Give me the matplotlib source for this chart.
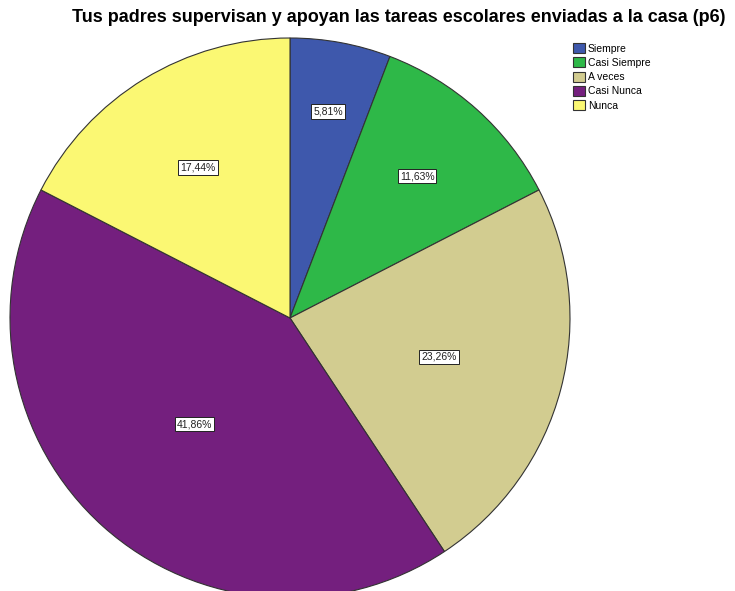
import numpy as np
import matplotlib.pyplot as plt

# Data (percent of answers)
categories = ['Siempre', 'Casi Siempre', 'A veces', 'Casi Nunca', 'Nunca']
percents = [5.81, 11.63, 23.26, 41.86, 17.44]
colors = ['#3e58ac', '#2eb848', '#d2cc90', '#741f7e', '#fbf873']
label_r = [0.75, 0.68, 0.55, 0.51, 0.63]  # radial position of each label

plt.rcParams['font.family'] = ['Liberation Sans', 'DejaVu Sans']

fig = plt.figure(figsize=(7.35, 5.91), dpi=100)
ax = fig.add_axes([10/735, -7/591, 560/735, 560/591])

wedges, _ = ax.pie(percents, colors=colors, startangle=90, counterclock=False,
                   radius=1.0, wedgeprops=dict(edgecolor='#333333', linewidth=0.8))
ax.set_xlim(-1, 1)
ax.set_ylim(-1, 1)
ax.set_aspect('equal')

# Percent labels in little white boxes
for w, p, r in zip(wedges, percents, label_r):
    ang = np.deg2rad((w.theta1 + w.theta2) / 2)
    ax.text(r * np.cos(ang), r * np.sin(ang), ('%.2f%%' % p).replace('.', ','),
            ha='center', va='center', fontsize=7.5, color='#222222',
            bbox=dict(boxstyle='square,pad=0.2', fc='white', ec='#222222', lw=0.7))

fig.text(399/735, 1 - 17/591, 'Tus padres supervisan y apoyan las tareas escolares enviadas a la casa (p6)',
         ha='center', va='center', fontsize=13, fontweight='bold')

fig.legend(wedges, categories, loc='upper left', bbox_to_anchor=(566/735, 1 - 36/591),
           frameon=False, fontsize=7.5, handlelength=1.1, handleheight=1.1,
           handletextpad=0.3, labelspacing=0.35, borderpad=0.2)

fig.savefig('out.png', dpi=100)
